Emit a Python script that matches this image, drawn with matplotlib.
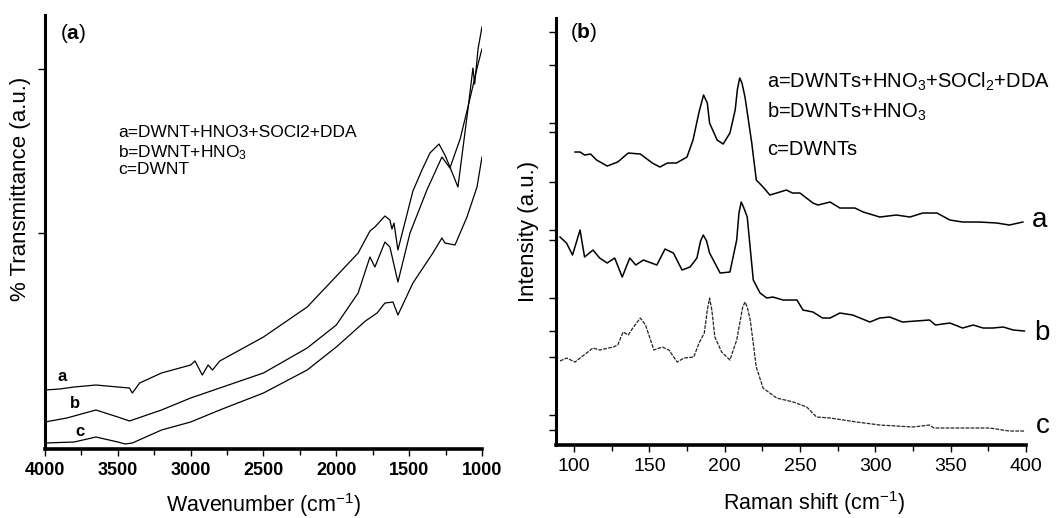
import matplotlib
matplotlib.use("Agg")
import matplotlib.pyplot as plt
from matplotlib.ticker import MultipleLocator

plt.rcParams['font.family'] = ['Liberation Sans', 'DejaVu Sans']
plt.rcParams['mathtext.fontset'] = 'custom'
plt.rcParams['mathtext.rm'] = 'Liberation Sans'
plt.rcParams['mathtext.bf'] = 'Liberation Sans:bold'
plt.rcParams['mathtext.default'] = 'regular'

# (a) FTIR, wavenumber vs transmittance (arbitrary units)
ftir_a_x = [4000, 3900, 3800, 3650, 3500, 3420, 3400, 3350, 3200, 3000, 2970, 2920, 2880, 2850, 2800,
            2500, 2200, 2044, 1850, 1769, 1735, 1666, 1632, 1618, 1604, 1577, 1481, 1474, 1412, 1357,
            1295, 1254, 1220, 1165, 1096, 1062, 1050, 1027, 1000]
ftir_a_y = [59, 60, 62, 64, 62, 61, 56, 66, 76, 84, 88, 74, 84, 79, 88,
            112, 142, 166, 196, 218, 222, 233, 229, 220, 226, 199, 254, 258, 279, 296,
            305, 294, 282, 262, 340, 381, 365, 400, 422]
ftir_b_x = [4000, 3850, 3650, 3500, 3420, 3200, 3000, 2500, 2200, 2000, 1850, 1769, 1735, 1666, 1632,
            1577, 1494, 1378, 1275, 1220, 1150, 1083, 1027, 1000]
ftir_b_y = [27, 31, 39, 32, 28, 39, 51, 76, 101, 124, 156, 192, 182, 207, 202,
            167, 216, 259, 292, 281, 310, 350, 385, 400]
ftir_c_x = [4000, 3800, 3650, 3500, 3450, 3400, 3200, 3000, 2800, 2500, 2200, 2000, 1800, 1720, 1666,
            1611, 1577, 1474, 1337, 1275, 1254, 1185, 1103, 1034, 1000]
ftir_c_y = [6, 7, 12, 7, 5, 6, 19, 27, 39, 56, 79, 102, 128, 136, 146,
            147, 134, 166, 196, 211, 206, 204, 232, 262, 292]

# (b) Raman, shift vs intensity (arbitrary units)
raman_a_x = [100.7, 104, 107, 111, 115, 122, 129, 136, 144, 152, 157, 162, 168, 175, 179, 183, 186, 188.5,
             190, 195, 199, 203.5, 207, 208.5, 210, 211.5, 213.5, 218, 221, 225.5, 230, 234.5, 241, 245,
             250, 258.6, 262, 270, 276.5, 286.5, 292, 303, 314, 323, 331.6, 341, 349.5, 358, 369, 380.7,
             389, 398]
raman_a_y = [293, 293, 290, 291, 285, 279, 283, 292, 291, 282, 278, 282, 282, 288, 305, 333, 350, 342,
             322, 305, 301, 312, 335, 356, 367, 362, 348, 302, 265, 258, 250, 252, 255, 252,
             252, 242, 240, 243, 237, 237, 233, 228, 230, 228, 232, 232, 225, 223, 223, 222,
             220, 223]
raman_b_x = [90.7, 95, 99, 104, 107, 112.6, 117, 122, 127, 132, 137, 141, 146, 155, 160.4, 166, 171.7, 177,
             181.6, 184, 185.8, 188, 190, 197, 203.5, 208, 209.5, 211, 212.5, 215, 219, 223.5, 228, 232,
             238.7, 248, 252, 258.6, 265, 270, 276.5, 285, 296.4, 303, 309.6, 318, 327, 336, 340, 349.5,
             358, 365, 371.6, 378, 385, 391.6, 399]
raman_b_y = [208, 202, 190, 215, 188, 195, 187, 182, 187, 168, 187, 180, 185, 180, 196, 192, 175, 178,
             187, 204, 210, 204, 192, 172, 173, 205, 232, 243, 238, 228, 165, 152, 147, 148,
             145, 145, 135, 133, 127, 127, 132, 130, 123, 127, 128, 123, 124, 125, 120, 122,
             117, 120, 117, 117, 118, 115, 114]
raman_c_x = [90.7, 95, 100.7, 104, 112.6, 117, 126, 129, 132.6, 136, 139, 144, 147.5, 153, 158.6, 163,
             168.5, 173, 179.5, 183, 186.5, 188.5, 190, 191.5, 193.5, 198, 203.5, 208, 212, 213.5, 215,
             217, 221, 225.5, 234.5, 245.6, 254.5, 261, 270, 287.6, 303, 325, 336, 339, 358, 376, 389, 399]
raman_c_y = [84, 87, 83, 87, 97, 95, 98, 100, 113, 110, 117, 127, 120, 95, 98, 95,
             83, 87, 88, 102, 112, 135, 147, 135, 108, 93, 85, 105, 138, 143, 138,
             125, 78, 57, 47, 43, 38, 28, 27, 23, 20, 18, 20, 17, 17, 17, 14, 14]

fig = plt.figure(figsize=(10.63, 5.18), dpi=100)
ax1 = fig.add_axes([0.0423, 0.1332, 0.4111, 0.8378])
ax2 = fig.add_axes([0.5230, 0.1409, 0.4421, 0.8243])

for ax in (ax1, ax2):
    ax.spines['top'].set_visible(False)
    ax.spines['right'].set_visible(False)
    ax.spines['left'].set_linewidth(2.2)
    ax.spines['bottom'].set_linewidth(2.6)
    ax.tick_params(which='both', direction='out', width=1)
    ax.tick_params(which='major', length=5)
    ax.tick_params(which='minor', length=4)

# panel (a)
for x, y in ((ftir_a_x, ftir_a_y), (ftir_b_x, ftir_b_y), (ftir_c_x, ftir_c_y)):
    ax1.plot(x, y, color='black', lw=0.9)
ax1.set_xlim(4000, 1000)
ax1.set_ylim(0, 434)
ax1.xaxis.set_major_locator(MultipleLocator(500))
ax1.xaxis.set_minor_locator(MultipleLocator(250))
ax1.set_yticks([216, 380])
ax1.set_yticklabels([])
ax1.tick_params(axis='x', labelsize=13, pad=4)
for lab in ax1.get_xticklabels():
    lab.set_fontweight('bold')
ax1.set_xlabel('Wavenumber (cm$^{-1}$)', fontsize=15.5)
ax1.xaxis.set_label_coords(0.50, -0.096)
ax1.set_ylabel('% Transmittance (a.u.)', fontsize=16)
ax1.yaxis.set_label_coords(-0.032, 0.60)
ax1.text(0.035, 0.958, r'($\mathbf{a}$)', transform=ax1.transAxes, fontsize=15, va='center')
ax1.text(0.167, 0.730, 'a=DWNT+HNO3+SOCl2+DDA', transform=ax1.transAxes, fontsize=12.5, va='center')
ax1.text(0.167, 0.684, 'b=DWNT+HNO$_3$', transform=ax1.transAxes, fontsize=12.5, va='center')
ax1.text(0.167, 0.643, 'c=DWNT', transform=ax1.transAxes, fontsize=12.5, va='center')
ax1.text(0.039, 0.166, 'a', transform=ax1.transAxes, fontsize=12, fontweight='bold', ha='center', va='center')
ax1.text(0.069, 0.104, 'b', transform=ax1.transAxes, fontsize=12, fontweight='bold', ha='center', va='center')
ax1.text(0.080, 0.041, 'c', transform=ax1.transAxes, fontsize=12, fontweight='bold', ha='center', va='center')

# panel (b)
ax2.plot(raman_a_x, raman_a_y, color='black', lw=1.1)
ax2.plot(raman_b_x, raman_b_y, color='black', lw=1.1)
ax2.plot(raman_c_x, raman_c_y, color='#222222', lw=0.9, ls=(0, (3, 1)))
ax2.set_xlim(88, 400)
ax2.set_ylim(0, 427)
ax2.xaxis.set_major_locator(MultipleLocator(50))
ax2.xaxis.set_minor_locator(MultipleLocator(25))
ax2.set_yticks([413, 380, 322, 313, 263, 215, 205, 147, 114, 88, 30, 15])
ax2.set_yticklabels([])
ax2.tick_params(axis='x', labelsize=14, pad=4)
ax2.set_xlabel('Raman shift (cm$^{-1}$)', fontsize=15.5)
ax2.xaxis.set_label_coords(0.55, -0.104)
ax2.set_ylabel('Intensity (a.u.)', fontsize=16)
ax2.yaxis.set_label_coords(-0.036, 0.50)
ax2.text(0.030, 0.965, r'($\mathbf{b}$)', transform=ax2.transAxes, fontsize=15, va='center')
ax2.text(0.449, 0.850, 'a=DWNTs+HNO$_3$+SOCl$_2$+DDA', transform=ax2.transAxes, fontsize=14.5, va='center')
ax2.text(0.449, 0.780, 'b=DWNTs+HNO$_3$', transform=ax2.transAxes, fontsize=14.5, va='center')
ax2.text(0.449, 0.692, 'c=DWNTs', transform=ax2.transAxes, fontsize=14.5, va='center')
ax2.text(1.013, 0.527, 'a', transform=ax2.transAxes, fontsize=20, ha='left', va='center')
ax2.text(1.017, 0.262, 'b', transform=ax2.transAxes, fontsize=20, ha='left', va='center')
ax2.text(1.022, 0.045, 'c', transform=ax2.transAxes, fontsize=20, ha='left', va='center')

fig.savefig('out.png', dpi=100)
